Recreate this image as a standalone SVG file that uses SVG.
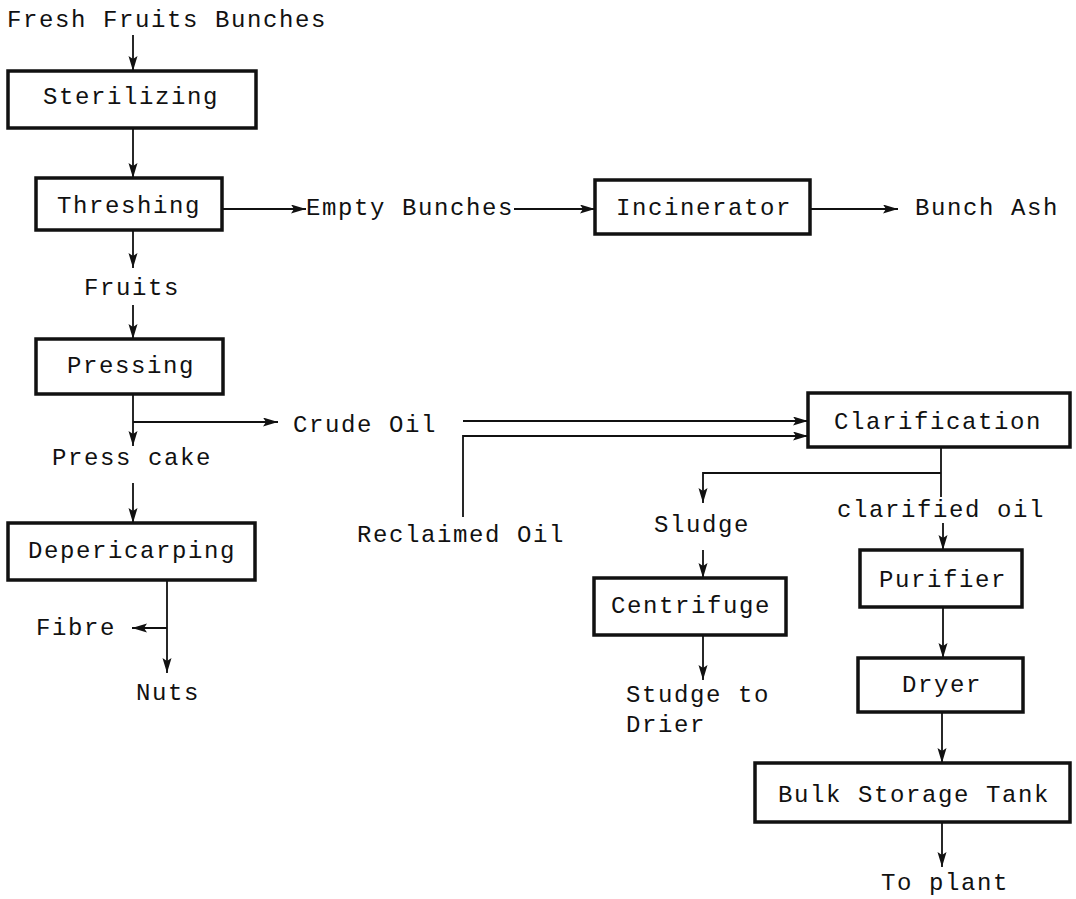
<svg xmlns="http://www.w3.org/2000/svg" width="1076" height="899" viewBox="0 0 1076 899">
<defs>
<style>
text{font-family:"Liberation Mono","Courier New",monospace;font-size:24px;letter-spacing:1.6px;fill:#111;}
.box rect{fill:#fff;stroke:#111;stroke-width:3.5;}
.c{text-anchor:middle;}
#connectors path{fill:none;stroke:#111;stroke-width:1.8;}
</style>
<marker id="ah" markerUnits="userSpaceOnUse" markerWidth="16" markerHeight="10" refX="15" refY="4.5" orient="auto">
<path d="M0,0 L15,4.5 L0,9 L3,4.5 z" fill="#111"/>
</marker>
</defs>
<rect width="1076" height="899" fill="#fff"/>
<g id="connectors">
<path d="M133,35 V71" marker-end="url(#ah)"/>
<path d="M133,128 V178" marker-end="url(#ah)"/>
<path d="M222,209 H306" marker-end="url(#ah)"/>
<path d="M514,209 H595" marker-end="url(#ah)"/>
<path d="M810,209 H898" marker-end="url(#ah)"/>
<path d="M133,230 V268" marker-end="url(#ah)"/>
<path d="M133,305 V339" marker-end="url(#ah)"/>
<path d="M133,394 V446" marker-end="url(#ah)"/>
<path d="M133,422 H278" marker-end="url(#ah)"/>
<path d="M133,483 V523" marker-end="url(#ah)"/>
<path d="M167,580 V673" marker-end="url(#ah)"/>
<path d="M167,628 H132" marker-end="url(#ah)"/>
<path d="M463,421 H808" marker-end="url(#ah)"/>
<path d="M463,517 V436 H808" marker-end="url(#ah)"/>
<path d="M941,447 V497"/>
<path d="M941,473 H703 V503" marker-end="url(#ah)"/>
<path d="M943,523 V550" marker-end="url(#ah)"/>
<path d="M943,607 V658" marker-end="url(#ah)"/>
<path d="M942,712 V763" marker-end="url(#ah)"/>
<path d="M942,822 V867" marker-end="url(#ah)"/>
<path d="M703,550 V578" marker-end="url(#ah)"/>
<path d="M703,635 V680" marker-end="url(#ah)"/>
</g>
<g id="n-ffb"><text x="7" y="27">Fresh Fruits Bunches</text></g>
<g id="n-sterilizing" class="box"><rect x="8" y="71" width="248" height="57"/><text class="c" x="131" y="104">Sterilizing</text></g>
<g id="n-threshing" class="box"><rect x="36" y="178" width="186" height="52"/><text class="c" x="129" y="213">Threshing</text></g>
<g id="n-empty"><text x="306" y="215">Empty Bunches</text></g>
<g id="n-incinerator" class="box"><rect x="595" y="180" width="215" height="54"/><text class="c" x="704" y="215">Incinerator</text></g>
<g id="n-ash"><text x="915" y="215">Bunch Ash</text></g>
<g id="n-fruits"><text x="84" y="295">Fruits</text></g>
<g id="n-pressing" class="box"><rect x="36" y="339" width="187" height="55"/><text class="c" x="131" y="373">Pressing</text></g>
<g id="n-crude"><text x="293" y="432">Crude Oil</text></g>
<g id="n-presscake"><text x="52" y="465">Press cake</text></g>
<g id="n-depericarping" class="box"><rect x="8" y="523" width="247" height="57"/><text class="c" x="132" y="558">Depericarping</text></g>
<g id="n-fibre"><text x="36" y="635">Fibre</text></g>
<g id="n-nuts"><text x="136" y="700">Nuts</text></g>
<g id="n-reclaimed"><text x="357" y="542">Reclaimed Oil</text></g>
<g id="n-clarification" class="box"><rect x="808" y="393" width="262" height="54"/><text class="c" x="938" y="429">Clarification</text></g>
<g id="n-sludge"><text x="654" y="532">Sludge</text></g>
<g id="n-clarified"><text x="837" y="517">clarified oil</text></g>
<g id="n-centrifuge" class="box"><rect x="594" y="578" width="192" height="57"/><text class="c" x="691" y="613">Centrifuge</text></g>
<g id="n-studge"><text x="626" y="702">Studge to</text><text x="626" y="732">Drier</text></g>
<g id="n-purifier" class="box"><rect x="860" y="550" width="162" height="57"/><text class="c" x="943" y="587">Purifier</text></g>
<g id="n-dryer" class="box"><rect x="858" y="658" width="165" height="54"/><text class="c" x="942" y="692">Dryer</text></g>
<g id="n-bulk" class="box"><rect x="755" y="763" width="315" height="59"/><text class="c" x="914" y="802">Bulk Storage Tank</text></g>
<g id="n-toplant"><text x="881" y="890">To plant</text></g>
</svg>
